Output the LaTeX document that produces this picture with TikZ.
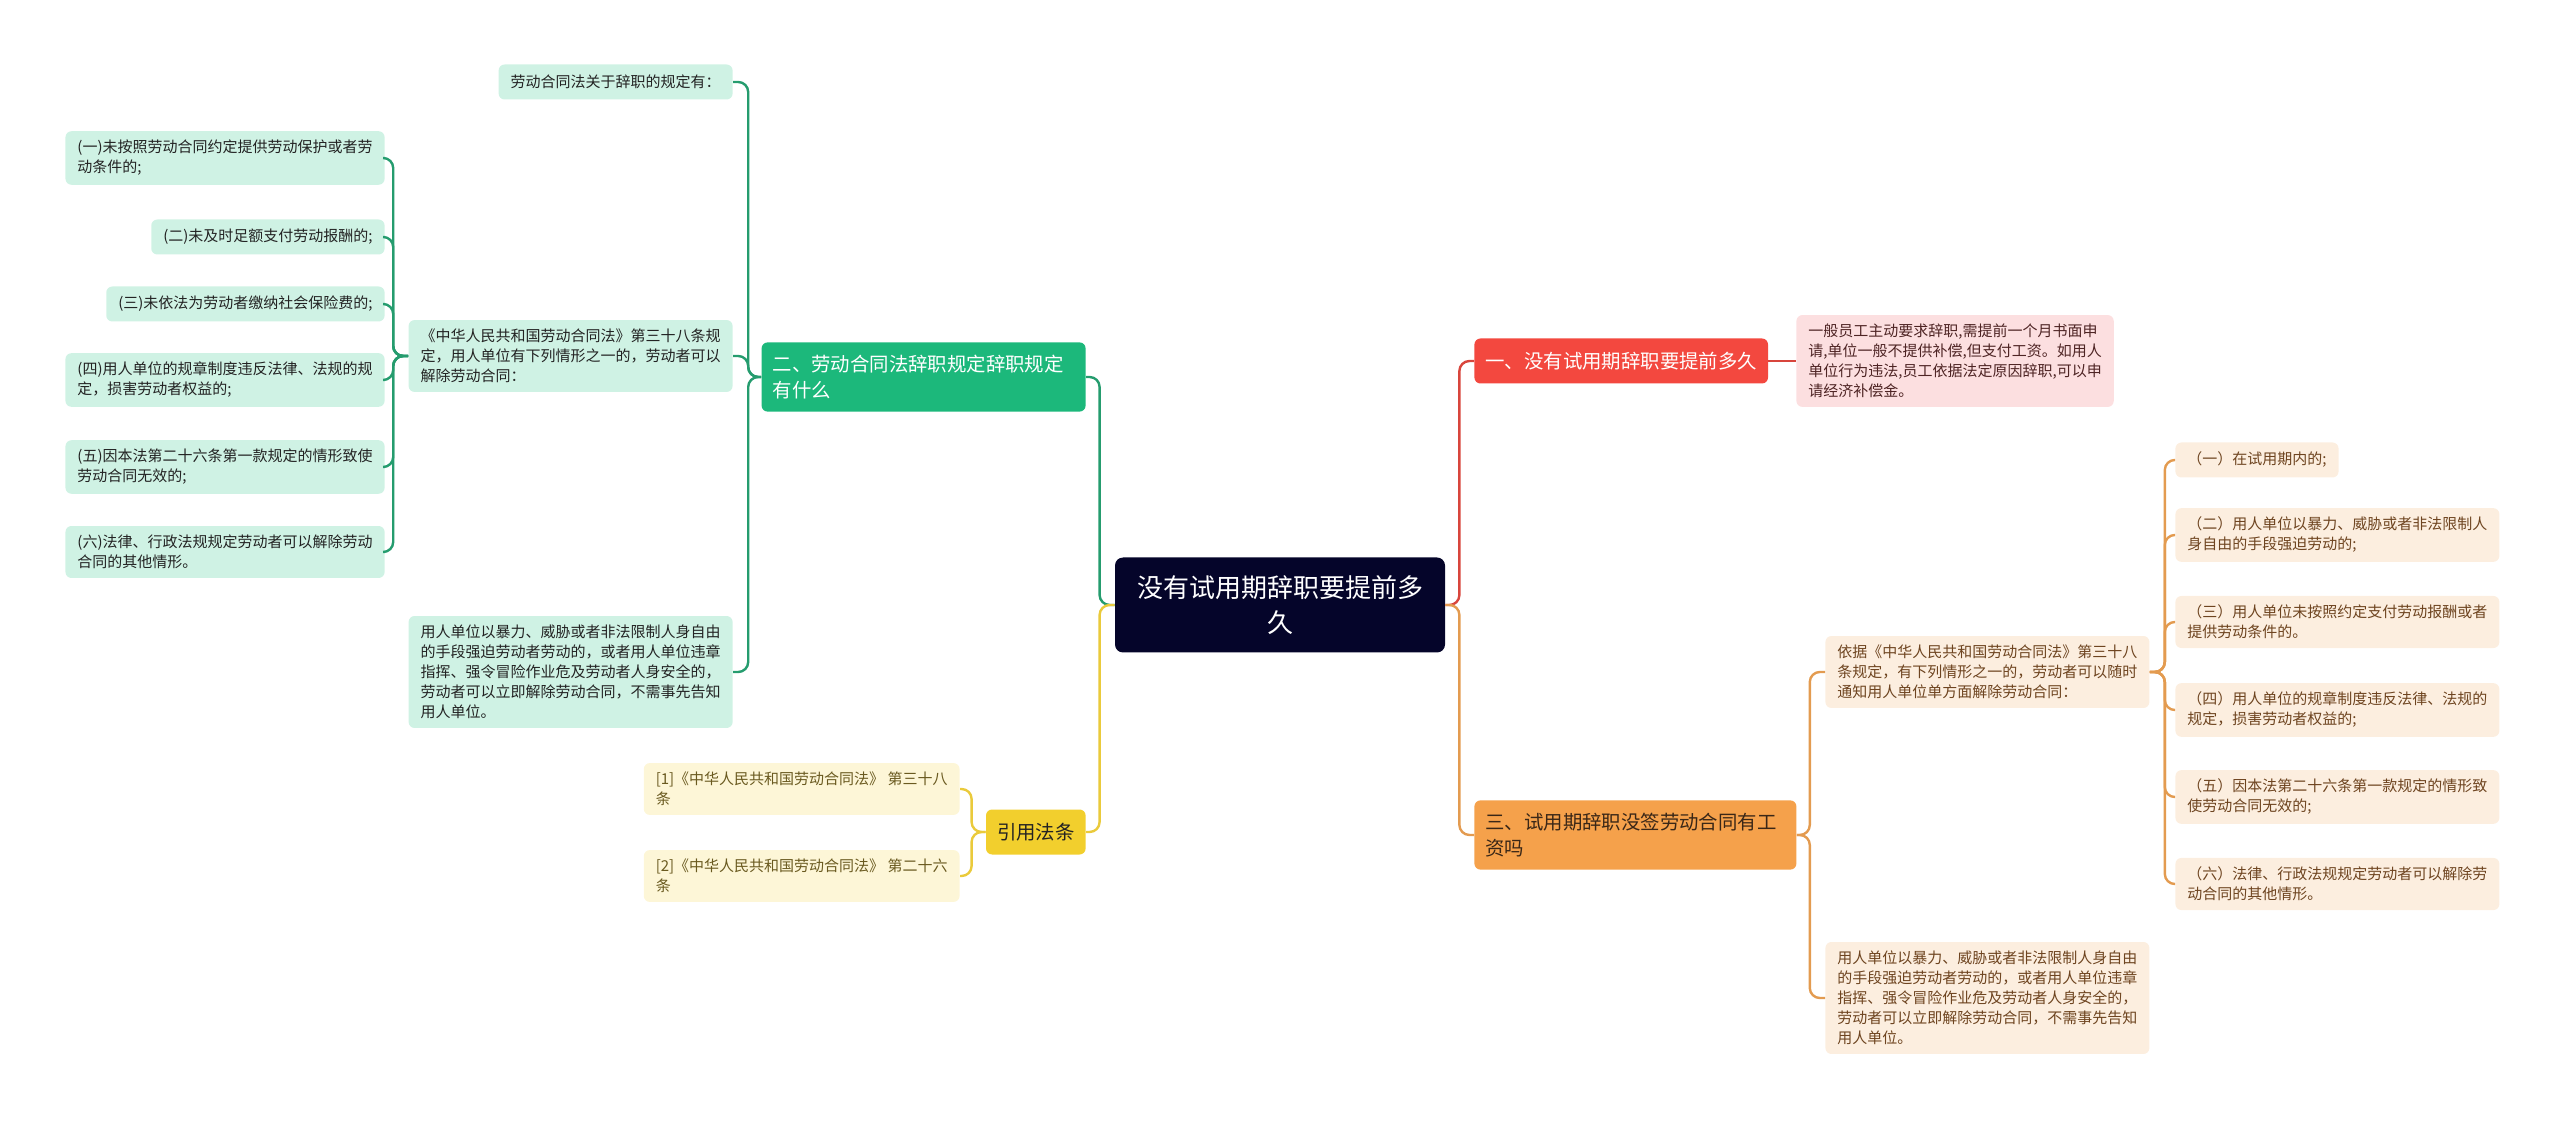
\documentclass[tikz,border=0pt]{standalone}
\usepackage{fontspec}
\setmainfont{Noto Sans CJK SC}
\usepackage{tikz}
\definecolor{mapnavy}{HTML}{05052A}
\definecolor{mapred}{HTML}{F3483F}
\definecolor{redline}{HTML}{D8453C}
\definecolor{pinkleaf}{HTML}{FCDFE0}
\definecolor{pinkink}{HTML}{4E2424}
\definecolor{maporange}{HTML}{F5A14B}
\definecolor{orangeline}{HTML}{E39B50}
\definecolor{orangeleaf}{HTML}{FCEEDF}
\definecolor{orangeink}{HTML}{6E4420}
\definecolor{orangedark}{HTML}{3A2717}
\definecolor{mapgreen}{HTML}{1CB87B}
\definecolor{greenline}{HTML}{259C6E}
\definecolor{greenleaf}{HTML}{CFF2E4}
\definecolor{greenink}{HTML}{232323}
\definecolor{mapyellow}{HTML}{F2CF2D}
\definecolor{yellowline}{HTML}{EACA3B}
\definecolor{yellowleaf}{HTML}{FDF6D7}
\definecolor{yellowink}{HTML}{6A5A20}

\begin{document}
\begin{tikzpicture}[x=0.5pt,y=-0.5pt,font=\fontsize{7.5}{10}\selectfont]
\tikzset{
root/.style={fill=mapnavy,text=white,rounded corners=4pt,minimum width=165pt,minimum height=47.5pt,align=center,font=\fontsize{13}{17.5}\selectfont},
branch/.style={rounded corners=3pt,inner xsep=5.5pt,inner ysep=6.3pt,minimum height=22.5pt,align=left,font=\fontsize{9.7}{13}\selectfont},
leaf/.style={rounded corners=3pt,inner xsep=6pt,inner ysep=4.5pt,minimum height=17.5pt,align=left},
leafg/.style={leaf,fill=greenleaf,text=greenink},
leafo/.style={leaf,fill=orangeleaf,text=orangeink},
leafy/.style={leaf,fill=yellowleaf,text=yellowink},
leafr/.style={leaf,fill=pinkleaf,text=pinkink},
rline/.style={draw=redline,line width=1.2pt,rounded corners=5pt},
oline/.style={draw=orangeline,line width=1.2pt,rounded corners=5pt},
gline/.style={draw=greenline,line width=1.2pt,rounded corners=5pt},
yline/.style={draw=yellowline,line width=1.2pt,rounded corners=5pt}}
\useasboundingbox (0,0) rectangle (2560,1122);

\node[root] (root) at (1280,605) {没有试用期辞职要提前多\\久};

% right half
\node[branch,fill=mapred,text=white,anchor=west] (b1) at (1474,361) {一、没有试用期辞职要提前多久};
\node[leafr,anchor=west] (r1) at (1796,361) {一般员工主动要求辞职,需提前一个月书面申\\请,单位一般不提供补偿,但支付工资。如用人\\单位行为违法,员工依据法定原因辞职,可以申\\请经济补偿金。};
\node[branch,fill=maporange,text=orangedark,anchor=west,text width=150pt] (b3) at (1474,835) {三、试用期辞职没签劳动合同有工\\资吗};
\node[leafo,anchor=west] (o1) at (1825,672) {依据《中华人民共和国劳动合同法》第三十八\\条规定，有下列情形之一的，劳动者可以随时\\通知用人单位单方面解除劳动合同：};
\node[leafo,anchor=west] (o2) at (1825,998) {用人单位以暴力、威胁或者非法限制人身自由\\的手段强迫劳动者劳动的，或者用人单位违章\\指挥、强令冒险作业危及劳动者人身安全的，\\劳动者可以立即解除劳动合同，不需事先告知\\用人单位。};
\node[leafo,anchor=west] (o11) at (2175,460) {（一）在试用期内的;};
\node[leafo,anchor=west] (o12) at (2175,535) {（二）用人单位以暴力、威胁或者非法限制人\\身自由的手段强迫劳动的;};
\node[leafo,anchor=west] (o13) at (2175,622) {（三）用人单位未按照约定支付劳动报酬或者\\提供劳动条件的。};
\node[leafo,anchor=west] (o14) at (2175,710) {（四）用人单位的规章制度违反法律、法规的\\规定，损害劳动者权益的;};
\node[leafo,anchor=west] (o15) at (2175,797) {（五）因本法第二十六条第一款规定的情形致\\使劳动合同无效的;};
\node[leafo,anchor=west] (o16) at (2175,884) {（六）法律、行政法规规定劳动者可以解除劳\\动合同的其他情形。};

% left half
\node[branch,fill=mapgreen,text=white,anchor=east,text width=151pt] (b2) at (1086,377) {二、劳动合同法辞职规定辞职规定\\有什么};
\node[leafg,anchor=east] (g1) at (733,82) {劳动合同法关于辞职的规定有：};
\node[leafg,anchor=east] (g2) at (733,356) {《中华人民共和国劳动合同法》第三十八条规\\定，用人单位有下列情形之一的，劳动者可以\\解除劳动合同：};
\node[leafg,anchor=east] (g3) at (733,672) {用人单位以暴力、威胁或者非法限制人身自由\\的手段强迫劳动者劳动的，或者用人单位违章\\指挥、强令冒险作业危及劳动者人身安全的，\\劳动者可以立即解除劳动合同，不需事先告知\\用人单位。};
\node[leafg,anchor=east] (g21) at (385,158) {(一)未按照劳动合同约定提供劳动保护或者劳\\动条件的;};
\node[leafg,anchor=east] (g22) at (385,237) {(二)未及时足额支付劳动报酬的;};
\node[leafg,anchor=east] (g23) at (385,304) {(三)未依法为劳动者缴纳社会保险费的;};
\node[leafg,anchor=east] (g24) at (385,380) {(四)用人单位的规章制度违反法律、法规的规\\定，损害劳动者权益的;};
\node[leafg,anchor=east] (g25) at (385,467) {(五)因本法第二十六条第一款规定的情形致使\\劳动合同无效的;};
\node[leafg,anchor=east] (g26) at (385,552) {(六)法律、行政法规规定劳动者可以解除劳动\\合同的其他情形。};
\node[branch,fill=mapyellow,text=greenink,anchor=east] (b4) at (1086,832) {引用法条};
\node[leafy,anchor=east] (y1) at (960,789) {[1]《中华人民共和国劳动合同法》 第三十八\\条};
\node[leafy,anchor=east] (y2) at (960,876) {[2]《中华人民共和国劳动合同法》 第二十六\\条};

% elbow connectors: stub out to a spine, then turn into each child
\coordinate (rsp) at ([xshift=7pt]root.east);
\coordinate (lsp) at ([xshift=-7.5pt]root.west);
\draw[rline] (root.east) -- (rsp) |- (b1.west);
\draw[oline] (root.east) -- (rsp) |- (b3.west);
\draw[gline] (root.west) -- (lsp) |- (b2.east);
\draw[yline] (root.west) -- (lsp) |- (b4.east);

\draw[rline] (b1) -- (r1);

\coordinate (osp) at ([xshift=6.5pt]b3.east);
\foreach \n in {o1,o2} \draw[oline] (b3.east) -- (osp) |- (\n.west);
\coordinate (o1sp) at ([xshift=7.5pt]o1.east);
\foreach \i in {1,...,6} \draw[oline] (o1.east) -- (o1sp) |- (o1\i.west);

\coordinate (gsp) at ([xshift=-6.5pt]b2.west);
\foreach \n in {g1,g2,g3} \draw[gline] (b2.west) -- (gsp) |- (\n.east);
\coordinate (g2sp) at ([xshift=-7.5pt]g2.west);
\foreach \i in {1,...,6} \draw[gline] (g2.west) -- (g2sp) |- (g2\i.east);

\coordinate (ysp) at ([xshift=-7pt]b4.west);
\foreach \n in {y1,y2} \draw[yline] (b4.west) -- (ysp) |- (\n.east);
\end{tikzpicture}
\end{document}
